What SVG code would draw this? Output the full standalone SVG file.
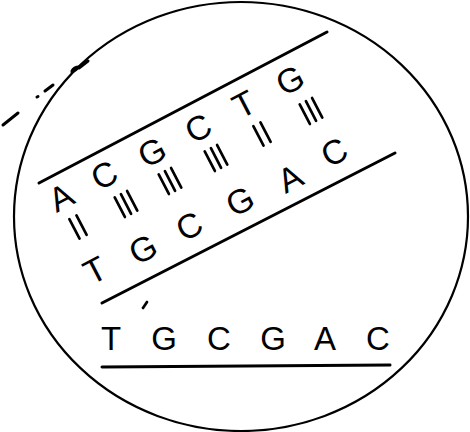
<svg xmlns="http://www.w3.org/2000/svg" width="470" height="432" viewBox="0 0 470 432">
  <style>
    .base { font-family: "Liberation Sans", Arial, sans-serif; font-size: 33px; fill: #000; text-anchor: middle; }
    .tilt { font-size: 34px; }
    .line { stroke: #000; stroke-width: 3; stroke-linecap: round; fill: none; }
    .bond { stroke: #000; stroke-width: 2.7; stroke-linecap: round; }
  </style>
  <defs>
    <g id="b2"><line class="bond" x1="-4" y1="-11" x2="-4" y2="11"/><line class="bond" x1="4" y1="-11" x2="4" y2="11"/></g>
    <g id="b3"><line class="bond" x1="-7" y1="-11" x2="-7" y2="11"/><line class="bond" x1="0" y1="-11" x2="0" y2="11"/><line class="bond" x1="7" y1="-11" x2="7" y2="11"/></g>
  </defs>
  <rect width="470" height="432" fill="#fff"/>

  <!-- enclosing circle -->
  <g id="circle">
    <ellipse cx="241" cy="216.5" rx="227" ry="214.5" fill="none" stroke="#000" stroke-width="2.2"/>
  </g>

  <!-- dashed lead-in to the circle -->
  <g id="leader" class="line">
    <line x1="3" y1="125" x2="18" y2="113"/>
    <line x1="37" y1="97" x2="38" y2="96.5"/>
    <line x1="45" y1="91" x2="53" y2="85"/>
    <path d="M72 71 Q74 67 79 67 Q76 70 72 72 M79 68 L88 61"/>
  </g>

  <!-- double strand -->
  <g id="duplex">
    <line class="line" x1="39" y1="183" x2="327" y2="32"/>
    <line class="line" x1="102" y1="303" x2="395" y2="153"/>

    <g id="strand-top">
      <text class="base tilt" transform="translate(61,197) rotate(-27.5)" y="12">A</text>
      <text class="base tilt" transform="translate(104,175) rotate(-27.5)" y="12">C</text>
      <text class="base tilt" transform="translate(152,152) rotate(-27.5)" y="12">G</text>
      <text class="base tilt" transform="translate(198,128) rotate(-27.5)" y="12">C</text>
      <text class="base tilt" transform="translate(244,104) rotate(-27.5)" y="12">T</text>
      <text class="base tilt" transform="translate(290,80) rotate(-27.5)" y="12">G</text>
    </g>

    <g id="bonds">
      <use href="#b2" transform="translate(78,227) rotate(-27.5)"/>
      <use href="#b3" transform="translate(126,204) rotate(-27.5)"/>
      <use href="#b3" transform="translate(170,181) rotate(-27.5)"/>
      <use href="#b3" transform="translate(216,158) rotate(-27.5)"/>
      <use href="#b2" transform="translate(262,134) rotate(-27.5)"/>
      <use href="#b3" transform="translate(311,111) rotate(-27.5)"/>
    </g>

    <g id="strand-bottom">
      <text class="base tilt" transform="translate(95,270) rotate(-27.5)" y="12">T</text>
      <text class="base tilt" transform="translate(143,249) rotate(-27.5)" y="12">G</text>
      <text class="base tilt" transform="translate(189,226) rotate(-27.5)" y="12">C</text>
      <text class="base tilt" transform="translate(240,201) rotate(-27.5)" y="12">G</text>
      <text class="base tilt" transform="translate(290,178) rotate(-27.5)" y="12">A</text>
      <text class="base tilt" transform="translate(334,152) rotate(-27.5)" y="12">C</text>
    </g>
  </g>

  <line class="bond" x1="143" y1="308" x2="147" y2="302" stroke-width="1.6"/>

  <!-- single strand -->
  <g id="single-strand">
    <text class="base" x="111" y="350">T</text>
    <text class="base" x="164" y="350">G</text>
    <text class="base" x="219" y="350">C</text>
    <text class="base" x="273" y="350">G</text>
    <text class="base" x="325" y="350">A</text>
    <text class="base" x="378" y="350">C</text>
    <line class="line" x1="102" y1="367" x2="390" y2="365"/>
  </g>
</svg>
